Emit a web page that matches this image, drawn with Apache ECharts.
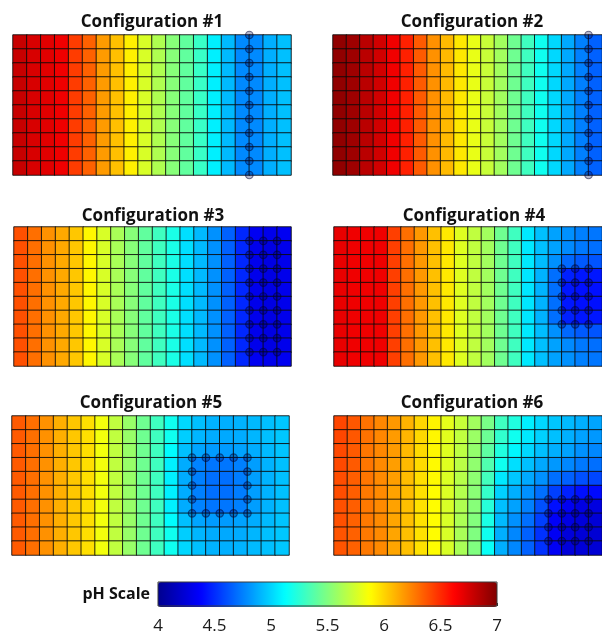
<!DOCTYPE html>
<html>
<head>
<meta charset="utf-8">
<script src="https://cdn.jsdelivr.net/npm/echarts@6/dist/echarts.min.js"></script>
<style>
html,body{margin:0;padding:0;background:#fff;}
#chart{width:602px;height:635px;}
</style>
</head>
<body>
<div id="chart"></div>
<script>
// ---------- DATA ----------
const titles = ['Configuration #1','Configuration #2','Configuration #3','Configuration #4','Configuration #5','Configuration #6'];
const colCats = ['1','2','3','4','5','6','7','8','9','10','11','12','13','14','15','16','17','18','19','20'];
const rowCats = ['1','2','3','4','5','6','7','8','9','10'];
const phTicks = [4, 4.5, 5, 5.5, 6, 6.5, 7];

const config1 = [
 [6.79,6.74,6.71,6.67,6.45,6.34,6.17,6.06,5.92,5.76,5.64,5.52,5.41,5.29,5.08,4.92,4.78,4.78,4.89,4.94],
 [6.79,6.74,6.71,6.67,6.45,6.34,6.17,6.06,5.92,5.76,5.64,5.52,5.41,5.29,5.08,4.92,4.78,4.78,4.89,4.94],
 [6.79,6.74,6.71,6.67,6.45,6.34,6.17,6.06,5.92,5.76,5.64,5.52,5.41,5.29,5.08,4.92,4.78,4.78,4.89,4.94],
 [6.79,6.74,6.71,6.67,6.45,6.34,6.17,6.06,5.92,5.76,5.64,5.52,5.41,5.29,5.08,4.92,4.78,4.78,4.89,4.94],
 [6.79,6.74,6.71,6.67,6.45,6.34,6.17,6.06,5.92,5.76,5.64,5.52,5.41,5.29,5.08,4.92,4.78,4.78,4.89,4.94],
 [6.79,6.74,6.71,6.67,6.45,6.34,6.17,6.06,5.92,5.76,5.64,5.52,5.41,5.29,5.08,4.92,4.78,4.78,4.89,4.94],
 [6.79,6.74,6.71,6.67,6.45,6.34,6.17,6.06,5.92,5.76,5.64,5.52,5.41,5.29,5.08,4.92,4.78,4.78,4.89,4.94],
 [6.79,6.74,6.71,6.67,6.45,6.34,6.17,6.06,5.92,5.76,5.64,5.52,5.41,5.29,5.08,4.92,4.78,4.78,4.89,4.94],
 [6.79,6.74,6.71,6.67,6.45,6.34,6.17,6.06,5.92,5.76,5.64,5.52,5.41,5.29,5.08,4.92,4.78,4.78,4.89,4.94],
 [6.79,6.74,6.71,6.67,6.45,6.34,6.17,6.06,5.92,5.76,5.64,5.52,5.41,5.29,5.08,4.92,4.78,4.78,4.89,4.94]
];
const config2 = [
 [6.95,6.91,6.83,6.76,6.67,6.53,6.36,6.20,6.08,5.94,5.81,5.71,5.60,5.45,5.31,5.17,5.01,4.87,4.75,4.66],
 [6.95,6.91,6.83,6.76,6.67,6.53,6.36,6.20,6.08,5.94,5.81,5.71,5.60,5.45,5.31,5.17,5.01,4.87,4.75,4.66],
 [6.95,6.91,6.83,6.76,6.67,6.53,6.36,6.20,6.08,5.94,5.81,5.71,5.60,5.45,5.31,5.17,5.01,4.87,4.75,4.66],
 [6.95,6.91,6.83,6.76,6.67,6.53,6.36,6.20,6.08,5.94,5.81,5.71,5.60,5.45,5.31,5.17,5.01,4.87,4.75,4.66],
 [6.95,6.91,6.83,6.76,6.67,6.53,6.36,6.20,6.08,5.94,5.81,5.71,5.60,5.45,5.31,5.17,5.01,4.87,4.75,4.66],
 [6.95,6.91,6.83,6.76,6.67,6.53,6.36,6.20,6.08,5.94,5.81,5.71,5.60,5.45,5.31,5.17,5.01,4.87,4.75,4.66],
 [6.95,6.91,6.83,6.76,6.67,6.53,6.36,6.20,6.08,5.94,5.81,5.71,5.60,5.45,5.31,5.17,5.01,4.87,4.75,4.66],
 [6.95,6.91,6.83,6.76,6.67,6.53,6.36,6.20,6.08,5.94,5.81,5.71,5.60,5.45,5.31,5.17,5.01,4.87,4.75,4.66],
 [6.95,6.91,6.83,6.76,6.67,6.53,6.36,6.20,6.08,5.94,5.81,5.71,5.60,5.45,5.31,5.17,5.01,4.87,4.75,4.66],
 [6.95,6.91,6.83,6.76,6.67,6.53,6.36,6.20,6.08,5.94,5.81,5.71,5.60,5.45,5.31,5.17,5.01,4.87,4.75,4.66]
];
const config3 = [
 [6.39,6.30,6.20,6.13,6.04,5.90,5.76,5.62,5.52,5.41,5.31,5.20,5.03,4.92,4.80,4.66,4.49,4.33,4.31,4.33],
 [6.39,6.30,6.20,6.13,6.04,5.90,5.76,5.62,5.52,5.41,5.31,5.20,5.03,4.92,4.80,4.66,4.49,4.31,4.28,4.31],
 [6.39,6.30,6.20,6.13,6.04,5.90,5.76,5.62,5.52,5.41,5.31,5.20,5.03,4.92,4.80,4.66,4.49,4.31,4.28,4.31],
 [6.39,6.30,6.20,6.13,6.04,5.90,5.76,5.62,5.52,5.41,5.31,5.20,5.03,4.92,4.80,4.66,4.49,4.31,4.28,4.31],
 [6.39,6.30,6.20,6.13,6.04,5.90,5.76,5.62,5.52,5.41,5.31,5.20,5.03,4.92,4.80,4.66,4.49,4.31,4.28,4.31],
 [6.39,6.30,6.20,6.13,6.04,5.90,5.76,5.62,5.52,5.41,5.31,5.20,5.03,4.92,4.80,4.66,4.49,4.31,4.28,4.31],
 [6.39,6.30,6.20,6.13,6.04,5.90,5.76,5.62,5.52,5.41,5.31,5.20,5.03,4.92,4.80,4.66,4.49,4.31,4.28,4.31],
 [6.39,6.30,6.20,6.13,6.04,5.90,5.76,5.62,5.52,5.41,5.31,5.20,5.03,4.92,4.80,4.66,4.49,4.31,4.28,4.31],
 [6.39,6.30,6.20,6.13,6.04,5.90,5.76,5.62,5.52,5.41,5.31,5.20,5.03,4.92,4.80,4.66,4.49,4.31,4.28,4.31],
 [6.39,6.30,6.20,6.13,6.04,5.90,5.76,5.62,5.52,5.41,5.31,5.20,5.03,4.92,4.80,4.66,4.49,4.33,4.31,4.33]
];
const config4 = [
 [6.69,6.67,6.67,6.67,6.44,6.30,6.18,6.06,5.94,5.78,5.69,5.60,5.45,5.31,5.06,4.94,4.85,4.80,4.75,4.72],
 [6.69,6.67,6.67,6.67,6.44,6.30,6.18,6.06,5.94,5.78,5.69,5.60,5.45,5.31,5.06,4.94,4.85,4.78,4.73,4.70],
 [6.69,6.67,6.67,6.67,6.44,6.30,6.18,6.06,5.94,5.78,5.69,5.60,5.45,5.31,5.06,4.93,4.80,4.68,4.64,4.62],
 [6.69,6.67,6.67,6.67,6.44,6.30,6.18,6.06,5.94,5.78,5.69,5.60,5.45,5.31,5.05,4.90,4.70,4.47,4.44,4.44],
 [6.69,6.67,6.67,6.67,6.44,6.30,6.18,6.06,5.94,5.78,5.69,5.60,5.45,5.31,5.05,4.90,4.70,4.44,4.42,4.42],
 [6.69,6.67,6.67,6.67,6.44,6.30,6.18,6.06,5.94,5.78,5.69,5.60,5.45,5.31,5.05,4.90,4.70,4.44,4.42,4.42],
 [6.69,6.67,6.67,6.67,6.44,6.30,6.18,6.06,5.94,5.78,5.69,5.60,5.45,5.31,5.05,4.90,4.70,4.47,4.44,4.44],
 [6.69,6.67,6.67,6.67,6.44,6.30,6.18,6.06,5.94,5.78,5.69,5.60,5.45,5.31,5.06,4.93,4.80,4.68,4.64,4.62],
 [6.69,6.67,6.67,6.67,6.44,6.30,6.18,6.06,5.94,5.78,5.69,5.60,5.45,5.31,5.06,4.94,4.85,4.78,4.73,4.70],
 [6.69,6.67,6.67,6.67,6.44,6.30,6.18,6.06,5.94,5.78,5.69,5.60,5.45,5.31,5.06,4.94,4.85,4.80,4.75,4.72]
];
const config5 = [
 [6.36,6.30,6.20,6.11,6.04,5.97,5.84,5.69,5.57,5.45,5.31,5.17,5.01,4.94,4.90,4.89,4.90,4.92,4.94,4.96],
 [6.36,6.30,6.20,6.11,6.04,5.97,5.84,5.69,5.57,5.45,5.31,5.17,4.98,4.91,4.88,4.87,4.88,4.91,4.94,4.96],
 [6.36,6.30,6.20,6.11,6.04,5.97,5.84,5.69,5.57,5.45,5.31,5.12,4.94,4.86,4.83,4.83,4.85,4.88,4.92,4.95],
 [6.36,6.30,6.20,6.11,6.04,5.97,5.84,5.69,5.57,5.45,5.31,5.08,4.88,4.76,4.72,4.72,4.75,4.84,4.90,4.94],
 [6.36,6.30,6.20,6.11,6.04,5.97,5.84,5.69,5.57,5.45,5.31,5.08,4.88,4.75,4.70,4.70,4.74,4.84,4.90,4.94],
 [6.36,6.30,6.20,6.11,6.04,5.97,5.84,5.69,5.57,5.45,5.31,5.08,4.88,4.75,4.70,4.70,4.74,4.84,4.90,4.94],
 [6.36,6.30,6.20,6.11,6.04,5.97,5.84,5.69,5.57,5.45,5.31,5.08,4.88,4.76,4.72,4.72,4.75,4.84,4.90,4.94],
 [6.36,6.30,6.20,6.11,6.04,5.97,5.84,5.69,5.57,5.45,5.31,5.12,4.94,4.86,4.83,4.83,4.85,4.88,4.92,4.95],
 [6.36,6.30,6.20,6.11,6.04,5.97,5.84,5.69,5.57,5.45,5.31,5.17,4.98,4.91,4.88,4.87,4.88,4.91,4.94,4.96],
 [6.36,6.30,6.20,6.11,6.04,5.97,5.84,5.69,5.57,5.45,5.31,5.17,5.01,4.94,4.90,4.89,4.90,4.92,4.94,4.96]
];
const config6 = [
 [6.42,6.37,6.29,6.23,6.18,6.10,6.00,5.91,5.80,5.71,5.60,5.48,5.31,5.22,5.08,5.01,4.96,4.92,4.89,4.86],
 [6.42,6.37,6.29,6.23,6.17,6.09,5.99,5.90,5.79,5.69,5.58,5.44,5.27,5.17,5.06,4.99,4.94,4.89,4.85,4.82],
 [6.41,6.36,6.28,6.23,6.17,6.08,5.98,5.90,5.78,5.68,5.56,5.40,5.22,5.10,5.01,4.94,4.89,4.85,4.80,4.77],
 [6.41,6.36,6.28,6.22,6.16,6.08,5.98,5.89,5.78,5.67,5.55,5.36,5.17,5.03,4.94,4.87,4.82,4.77,4.73,4.70],
 [6.40,6.35,6.28,6.22,6.16,6.07,5.97,5.89,5.77,5.66,5.54,5.32,5.06,4.96,4.87,4.80,4.70,4.66,4.61,4.58],
 [6.40,6.35,6.27,6.22,6.15,6.07,5.97,5.88,5.77,5.65,5.53,5.28,4.99,4.89,4.80,4.70,4.56,4.47,4.42,4.40],
 [6.39,6.35,6.27,6.22,6.15,6.06,5.96,5.88,5.76,5.64,5.52,5.24,4.94,4.85,4.75,4.61,4.42,4.33,4.28,4.27],
 [6.39,6.34,6.27,6.22,6.14,6.06,5.96,5.88,5.76,5.63,5.51,5.20,4.92,4.80,4.70,4.56,4.35,4.28,4.25,4.24],
 [6.38,6.34,6.27,6.22,6.14,6.06,5.96,5.88,5.76,5.62,5.50,5.17,4.89,4.77,4.66,4.52,4.34,4.25,4.24,4.23],
 [6.38,6.34,6.27,6.22,6.14,6.06,5.96,5.88,5.76,5.62,5.50,5.15,4.89,4.77,4.66,4.52,4.34,4.25,4.24,4.23]
];

// electrode positions (grid node x, grid node y)
const circles1 = [[17,0],[17,1],[17,2],[17,3],[17,4],[17,5],[17,6],[17,7],[17,8],[17,9],[17,10]];
const circles2 = [[19,0],[19,1],[19,2],[19,3],[19,4],[19,5],[19,6],[19,7],[19,8],[19,9],[19,10]];
const circles3 = [
 [17,1],[17,2],[17,3],[17,4],[17,5],[17,6],[17,7],[17,8],[17,9],
 [18,1],[18,2],[18,3],[18,4],[18,5],[18,6],[18,7],[18,8],[18,9],
 [19,1],[19,2],[19,3],[19,4],[19,5],[19,6],[19,7],[19,8],[19,9]];
const circles4 = [
 [17,3],[17,4],[17,5],[17,6],[17,7],
 [18,3],[18,4],[18,5],[18,6],[18,7],
 [19,3],[19,4],[19,5],[19,6],[19,7]];
const circles5 = [
 [13,3],[14,3],[15,3],[16,3],[17,3],
 [13,4],[17,4],[13,5],[17,5],[13,6],[17,6],
 [13,7],[14,7],[15,7],[16,7],[17,7]];
const circles6 = [
 [16,6],[17,6],[18,6],[19,6],
 [16,7],[17,7],[18,7],[19,7],
 [16,8],[17,8],[18,8],[19,8],
 [16,9],[17,9],[18,9],[19,9]];

const configs = [config1, config2, config3, config4, config5, config6];
const circleSets = [circles1, circles2, circles3, circles4, circles5, circles6];

// ---------- LAYOUT ----------
const panels = [
  {left:13, top:35, width:278, height:140, tx:152, ty:22},
  {left:333, top:35, width:278, height:140, tx:472, ty:22},
  {left:14, top:227, width:277, height:139, tx:153, ty:216.5},
  {left:334, top:227, width:278, height:139, tx:474, ty:216.5},
  {left:12, top:416, width:277, height:139, tx:151, ty:403.5},
  {left:334, top:416, width:278, height:139, tx:472, ty:403.5}
];
const cbar = {left:158, top:582, width:339, height:25};
const jet = ['#00008F','#0000FF','#0080FF','#00FFFF','#80FF80','#FFFF00','#FF8000','#FF0000','#800000'];
const FONT = '"Open Sans", "Noto Sans", sans-serif';

const grid = [], xAxis = [], yAxis = [], series = [], graphic = [];
panels.forEach((p) => {
  grid.push({left:p.left, top:p.top, width:p.width, height:p.height});
});
panels.forEach((p) => {
  grid.push({left:p.left, top:p.top, width:p.width, height:p.height});
});
grid.push({left:cbar.left, top:cbar.top, width:cbar.width, height:cbar.height,
  show:true, borderColor:'#3a3a3a', borderWidth:1, backgroundColor:'transparent', z:10});

for (let i = 0; i < 6; i++) {
  xAxis.push({type:'category', gridIndex:i, data:colCats, show:false});
  yAxis.push({type:'category', gridIndex:i, data:rowCats, show:false, inverse:true});
}
for (let i = 0; i < 6; i++) {
  xAxis.push({type:'value', gridIndex:6+i, min:0, max:20, show:false});
  yAxis.push({type:'value', gridIndex:6+i, min:0, max:10, show:false, inverse:true});
}
xAxis.push({type:'value', gridIndex:12, min:phTicks[0], max:phTicks[phTicks.length-1], interval:0.5,
  position:'bottom', axisLine:{show:false}, splitLine:{show:false},
  axisTick:{show:true, inside:true, length:3, lineStyle:{color:'#333', width:1}},
  axisLabel:{show:true, margin:12, fontSize:17, color:'#1a1a1a', fontFamily:FONT,
    formatter:(v)=> phTicks.indexOf(v) >= 0 ? String(v) : ''}});
yAxis.push({type:'value', gridIndex:12, min:0, max:1, show:false});

configs.forEach((cfg, i) => {
  const data = [];
  cfg.forEach((row, r) => row.forEach((v, c) => data.push([c, r, v])));
  series.push({
    type:'heatmap', xAxisIndex:i, yAxisIndex:i, data:data,
    itemStyle:{borderColor:'rgba(10,10,10,0.85)', borderWidth:1},
    emphasis:{disabled:true}, silent:true, progressive:0
  });
});
circleSets.forEach((pts, i) => {
  series.push({
    type:'scatter', xAxisIndex:6+i, yAxisIndex:6+i, data:pts,
    symbol:'circle', symbolSize:7.5,
    itemStyle:{color:'rgba(0,0,70,0.35)', borderColor:'rgba(0,0,50,0.65)', borderWidth:1.2},
    silent:true, z:5
  });
});

panels.forEach((p, i) => {
  graphic.push({type:'text', x:p.tx, y:p.ty, z:20,
    style:{text:titles[i], x:0, y:0, textAlign:'center', textVerticalAlign:'middle',
      font:'bold 17px ' + FONT, fill:'#111'}});
});
graphic.push({type:'text', x:150, y:594, z:20,
  style:{text:'pH Scale', textAlign:'right', textVerticalAlign:'middle',
    font:'bold 16px ' + FONT, fill:'#111'}});

const option = {
  animation:false,
  backgroundColor:'#ffffff',
  grid, xAxis, yAxis, series, graphic,
  visualMap:{
    type:'continuous', min:4, max:7, seriesIndex:[0,1,2,3,4,5],
    orient:'horizontal', left:cbar.left, top:cbar.top,
    itemWidth:cbar.height, itemHeight:cbar.width,
    calculable:false, hoverLink:false, showLabel:false, text:null, padding:0,
    inRange:{color:jet}
  }
};
const chart = echarts.init(document.getElementById('chart'), null, {renderer:'canvas'});
chart.setOption(option);
</script>
</body>
</html>
